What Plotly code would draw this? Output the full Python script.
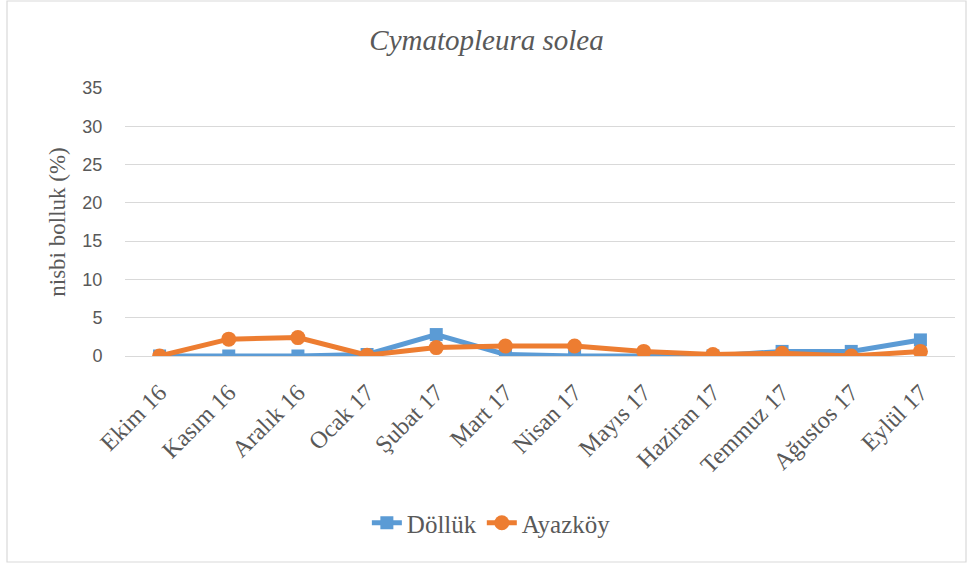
import plotly.graph_objects as go

months = ["Ekim 16", "Kasım 16", "Aralık 16", "Ocak 17", "Şubat 17", "Mart 17",
          "Nisan 17", "Mayıs 17", "Haziran 17", "Temmuz 17", "Ağustos 17", "Eylül 17"]
dolluk = [0, 0, 0, 0.2, 2.8, 0.2, 0, 0, 0, 0.6, 0.6, 2.1]
ayazkoy = [0, 2.2, 2.4, 0.1, 1.1, 1.3, 1.3, 0.6, 0.2, 0.35, 0, 0.6]
y_ticks = [0, 5, 10, 15, 20, 25, 30, 35]

W, H = 973, 565
L, R, T, B = 125, 18, 88, 209
serif = "Liberation Serif"
sans = "Liberation Sans"
text_col = "#595959"

fig = go.Figure()
fig.add_trace(go.Scatter(
    x=months, y=dolluk, name="Döllük", mode="lines+markers",
    line=dict(color="#5B9BD5", width=5),
    marker=dict(symbol="square", size=13, color="#5B9BD5"),
))
fig.add_trace(go.Scatter(
    x=months, y=ayazkoy, name="Ayazköy", mode="lines+markers",
    line=dict(color="#ED7D31", width=5),
    marker=dict(symbol="circle", size=15, color="#ED7D31"),
))

# outer chart border, in paper coords
pw, ph = W - L - R, H - T - B
def px_x(p):
    return (p - L) / pw
def px_y(p):
    return (H - B - p) / ph

fig.add_shape(type="rect", xref="paper", yref="paper",
              x0=px_x(7), x1=px_x(966), y0=px_y(562), y1=px_y(1),
              line=dict(color="#D9D9D9", width=1.2), fillcolor="rgba(0,0,0,0)")

fig.update_layout(
    width=W, height=H,
    margin=dict(l=L, r=R, t=T, b=B),
    paper_bgcolor="white", plot_bgcolor="white",
    title=dict(text="<i>Cymatopleura solea</i>", x=0.5, xanchor="center",
               y=1 - 40 / H, yanchor="middle", xref="container", yref="container",
               font=dict(family=serif, size=29, color=text_col)),
    xaxis=dict(
        tickangle=-45, tickfont=dict(family=serif, size=24, color=text_col),
        ticklabelstandoff=12,
        showgrid=False, showline=True, linecolor="#D9D9D9", linewidth=1,
        ticks="", range=[-0.5, 11.5], automargin=False,
    ),
    yaxis=dict(
        range=[0, 35], tickvals=y_ticks, showgrid=True, gridcolor="#D9D9D9",
        gridwidth=1, zeroline=False,
        tickfont=dict(family=sans, size=18, color=text_col),
        ticks="outside", ticklen=18, tickcolor="rgba(0,0,0,0)",
        title=dict(text="nisbi bolluk (%)", standoff=10,
                   font=dict(family=serif, size=23, color=text_col)),
        automargin=False,
    ),
    legend=dict(orientation="h", xref="container", x=0.505, xanchor="center",
                yref="container", y=1 - 523 / H, yanchor="middle",
                font=dict(family=serif, size=25, color=text_col)),
    showlegend=True,
)

fig.write_html("out.html", config={"displayModeBar": False},
               post_script="document.body.style.margin='0';")
